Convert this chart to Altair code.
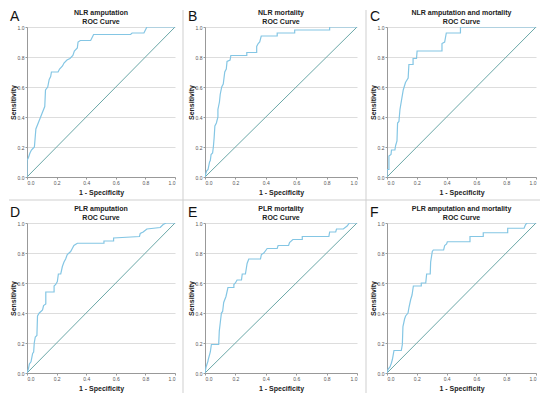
import altair as alt
import pandas as pd

# ---------------- data ----------------
ticks = [0.0, 0.2, 0.4, 0.6, 0.8, 1.0]
ref_line = [0.0, 1.0]

letters = ["A", "B", "C", "D", "E", "F"]
titles = ["NLR  amputation", "NLR  mortality", "NLR  amputation and mortality",
          "PLR  amputation", "PLR  mortality", "PLR  amputation and mortality"]

fpr_A = [0, 0, 0.01, 0.02, 0.03, 0.04, 0.05, 0.055, 0.06, 0.08, 0.10, 0.12, 0.125, 0.14, 0.15,
         0.16, 0.165, 0.21, 0.22, 0.24, 0.25, 0.27, 0.29, 0.31, 0.32, 0.34, 0.345, 0.36, 0.43,
         0.45, 0.70, 0.71, 0.79, 0.81, 1.0]
tpr_A = [0, 0.11, 0.13, 0.16, 0.18, 0.19, 0.20, 0.26, 0.32, 0.37, 0.42, 0.47, 0.58, 0.60, 0.65,
         0.67, 0.70, 0.70, 0.72, 0.74, 0.76, 0.78, 0.79, 0.81, 0.84, 0.86, 0.90, 0.91, 0.91,
         0.95, 0.95, 0.96, 0.96, 1.0, 1.0]

fpr_B = [0, 0.01, 0.02, 0.03, 0.035, 0.04, 0.05, 0.055, 0.06, 0.065, 0.075, 0.085, 0.085, 0.095,
         0.10, 0.11, 0.12, 0.13, 0.14, 0.145, 0.165, 0.17, 0.275, 0.275, 0.34, 0.34, 0.35, 0.36,
         0.37, 0.475, 0.475, 0.59, 0.59, 0.82, 0.82, 1.0]
tpr_B = [0, 0.04, 0.05, 0.10, 0.11, 0.15, 0.16, 0.20, 0.26, 0.34, 0.36, 0.40, 0.45, 0.50,
         0.55, 0.60, 0.62, 0.70, 0.72, 0.77, 0.78, 0.81, 0.81, 0.83, 0.83, 0.87, 0.89, 0.90,
         0.94, 0.94, 0.96, 0.96, 0.98, 0.98, 1.0, 1.0]

fpr_C = [0, 0, 0.013, 0.013, 0.027, 0.03, 0.053, 0.058, 0.067, 0.071, 0.08, 0.087, 0.109,
         0.124, 0.13, 0.142, 0.147, 0.175, 0.175, 0.198, 0.202, 0.369, 0.369, 0.387, 0.398,
         0.493, 0.493, 1.0]
tpr_C = [0, 0.05, 0.05, 0.14, 0.15, 0.18, 0.18, 0.21, 0.24, 0.36, 0.37, 0.45, 0.58,
         0.63, 0.64, 0.66, 0.75, 0.75, 0.79, 0.79, 0.84, 0.84, 0.89, 0.90, 0.96,
         0.96, 1.0, 1.0]

fpr_D = [0, 0.01, 0.016, 0.027, 0.038, 0.045, 0.049, 0.056, 0.067, 0.071, 0.083, 0.094, 0.105,
         0.112, 0.127, 0.127, 0.183, 0.183, 0.194, 0.205, 0.212, 0.228, 0.239, 0.25, 0.261,
         0.272, 0.295, 0.306, 0.317, 0.34, 0.52, 0.52, 0.585, 0.585, 0.76, 0.765, 0.785, 0.81,
         0.9, 0.92, 0.94, 1.0]
tpr_D = [0, 0.03, 0.06, 0.075, 0.13, 0.14, 0.20, 0.24, 0.25, 0.38, 0.40, 0.41, 0.42,
         0.45, 0.46, 0.54, 0.54, 0.58, 0.59, 0.61, 0.66, 0.66, 0.71, 0.74, 0.76,
         0.79, 0.81, 0.83, 0.85, 0.865, 0.865, 0.88, 0.88, 0.90, 0.91, 0.93, 0.94, 0.96,
         0.97, 0.99, 1.0, 1.0]

fpr_E = [0, 0.007, 0.02, 0.02, 0.035, 0.042, 0.09, 0.094, 0.101, 0.108, 0.116, 0.123, 0.138,
         0.151, 0.19, 0.19, 0.2, 0.211, 0.24, 0.245, 0.266, 0.277, 0.288, 0.365, 0.371, 0.387,
         0.409, 0.475, 0.481, 0.55, 0.556, 0.578, 0.64, 0.64, 0.815, 0.82, 0.86, 0.865, 0.91,
         0.935, 0.95, 1.0]
tpr_E = [0, 0.04, 0.08, 0.085, 0.14, 0.19, 0.19, 0.28, 0.34, 0.40, 0.41, 0.47, 0.51,
         0.57, 0.57, 0.59, 0.60, 0.62, 0.62, 0.66, 0.66, 0.73, 0.76, 0.76, 0.79, 0.80,
         0.83, 0.83, 0.85, 0.85, 0.87, 0.89, 0.89, 0.91, 0.91, 0.94, 0.94, 0.96, 0.96,
         0.98, 1.0, 1.0]

fpr_F = [0, 0.007, 0.02, 0.029, 0.036, 0.047, 0.096, 0.103, 0.107, 0.118, 0.125, 0.141, 0.148,
         0.159, 0.168, 0.177, 0.23, 0.23, 0.26, 0.266, 0.29, 0.293, 0.304, 0.311, 0.38, 0.387,
         0.4, 0.405, 0.557, 0.557, 0.646, 0.646, 0.81, 0.81, 0.92, 0.93, 0.94, 1.0]
tpr_F = [0, 0.025, 0.04, 0.065, 0.09, 0.15, 0.15, 0.19, 0.31, 0.36, 0.38, 0.40, 0.44,
         0.49, 0.52, 0.58, 0.58, 0.60, 0.60, 0.66, 0.66, 0.74, 0.81, 0.82, 0.82, 0.85,
         0.86, 0.875, 0.875, 0.91, 0.91, 0.935, 0.935, 0.965, 0.965, 0.99, 1.0, 1.0]

fprs = [fpr_A, fpr_B, fpr_C, fpr_D, fpr_E, fpr_F]
tprs = [tpr_A, tpr_B, tpr_C, tpr_D, tpr_E, tpr_F]

# ---------------- styling ----------------
FONT = "Liberation Sans"
CURVE = "#84c6e4"
DIAG = "#6aa7a7"
SEP = "#cfcfcf"


def panel(i, width, extra=None):
    df = pd.DataFrame({"fpr": fprs[i], "tpr": tprs[i], "order": list(range(len(fprs[i])))})
    x = alt.X("fpr:Q", scale=alt.Scale(domain=[0, 1], nice=False),
              axis=alt.Axis(title="1 - Specificity", values=ticks, format=".1f", grid=False,
                            titlePadding=3))
    y = alt.Y("tpr:Q", scale=alt.Scale(domain=[0, 1], nice=False),
              axis=alt.Axis(title="Sensitivity", values=ticks, format=".1f", grid=True,
                            titlePadding=1))
    diag = alt.Chart(pd.DataFrame({"fpr": ref_line, "tpr": ref_line})).mark_line(
        color=DIAG, strokeWidth=1).encode(x=x, y=y)
    curve = alt.Chart(df).mark_line(color=CURVE, strokeWidth=1.2, clip=True).encode(
        x=x, y=y, order="order:Q")
    letter = alt.Chart(pd.DataFrame({"letter": [letters[i]]})).mark_text(
        font=FONT, fontSize=14, align="left", baseline="alphabetic", color="#111"
    ).encode(text="letter:N", x=alt.value(-17), y=alt.value(-6))
    layers = [diag, curve, letter]
    if extra:
        layers += extra
    return alt.layer(*layers).properties(
        width=width, height=150,
        title=alt.Title([titles[i], "ROC Curve"], frame="group", offset=-15),
    )


one = pd.DataFrame({"k": [0]})
rule_v1 = alt.Chart(one).mark_rule(color=SEP, strokeWidth=1).encode(
    x=alt.value(156), y=alt.value(-17), y2=alt.value(366))
rule_h = alt.Chart(one).mark_rule(color=SEP, strokeWidth=1).encode(
    y=alt.value(173), x=alt.value(-18), x2=alt.value(513))
rule_v2 = alt.Chart(one).mark_rule(color=SEP, strokeWidth=1).encode(
    x=alt.value(161), y=alt.value(-17), y2=alt.value(366))

pA = panel(0, 148, [rule_v1, rule_h])
pB = panel(1, 152, [rule_v2])
pC = panel(2, 149)
pD = panel(3, 148)
pE = panel(4, 152)
pF = panel(5, 149)

chart = alt.concat(pA, pB, pC, pD, pE, pF, columns=3, bounds="flush",
                   spacing={"row": 46, "column": 30}).properties(
    padding=0, background="white"
).configure_view(stroke=None).configure_axis(
    labelFont=FONT, titleFont=FONT, labelFontSize=5, labelColor="#555",
    titleFontSize=7, titleFontWeight="bold", titleColor="#222",
    tickSize=2, tickColor="#999", domainColor="#999", domainWidth=1,
    gridColor="#dddddd", gridWidth=1, labelPadding=1,
).configure_title(
    font=FONT, fontSize=7, fontWeight="bold", color="#222", lineHeight=9,
    anchor="middle",
)

chart.save("out.html", embed_options={"renderer": "svg", "actions": False})
